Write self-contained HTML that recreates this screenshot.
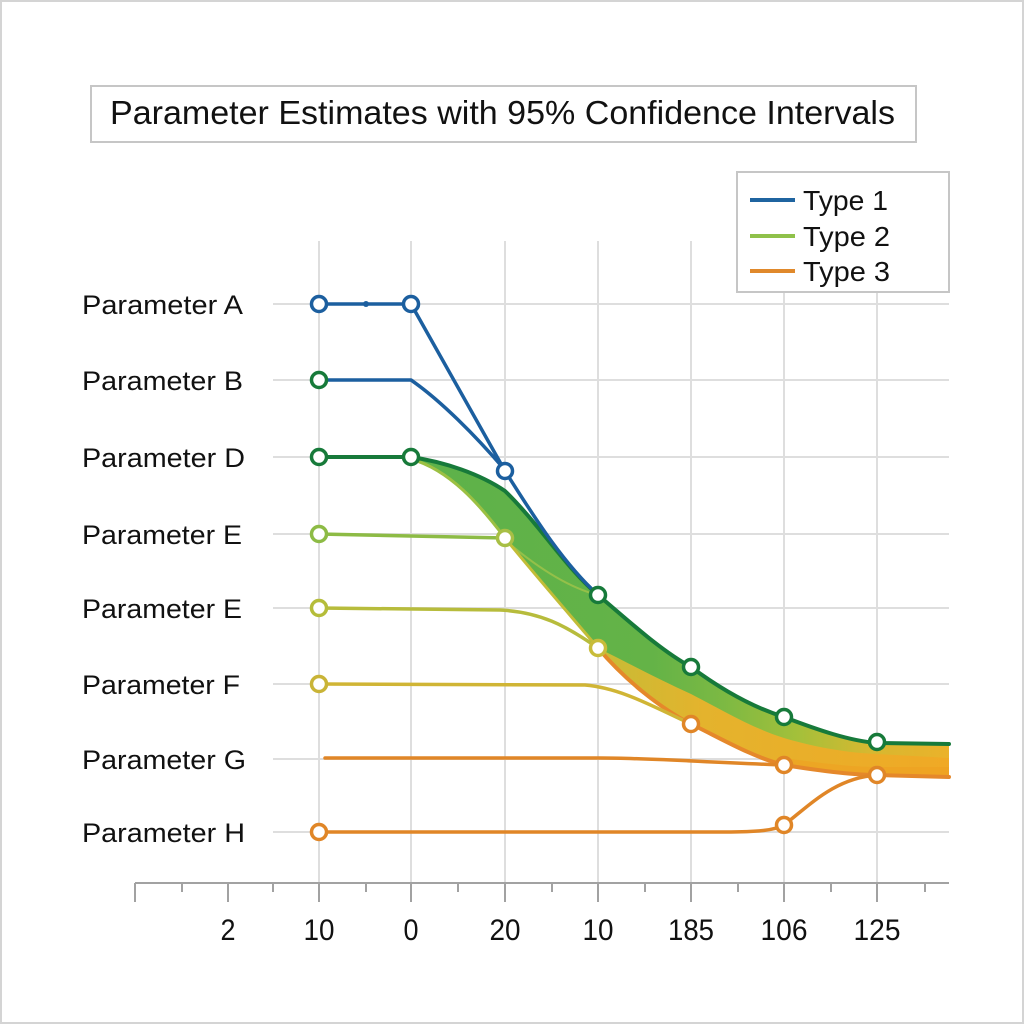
<!DOCTYPE html>
<html>
<head>
<meta charset="utf-8">
<style>
html,body{margin:0;padding:0;background:#fff;}
svg{display:block;}
text{font-family:"Liberation Sans",Arial,sans-serif;fill:#111;}
</style>
</head>
<body>
<svg width="1024" height="1024" viewBox="0 0 1024 1024" xmlns="http://www.w3.org/2000/svg">
<defs>
<linearGradient id="gUp" gradientUnits="userSpaceOnUse" x1="411" y1="0" x2="949" y2="0">
<stop offset="0" stop-color="#5db24a"/>
<stop offset="0.45" stop-color="#64b347"/>
<stop offset="0.58" stop-color="#7cb943"/>
<stop offset="0.72" stop-color="#a4c03a"/>
<stop offset="0.85" stop-color="#d6b830"/>
<stop offset="1" stop-color="#ebb22a"/>
</linearGradient>
<linearGradient id="gLow" gradientUnits="userSpaceOnUse" x1="598" y1="0" x2="949" y2="0">
<stop offset="0" stop-color="#c6bc36"/>
<stop offset="0.3" stop-color="#e4b32d"/>
<stop offset="1" stop-color="#f0a925"/>
</linearGradient>
</defs>
<rect x="1" y="1" width="1022" height="1022" fill="#fff" stroke="#d4d4d4" stroke-width="2"/>

<!-- title -->
<rect x="91" y="86" width="825" height="56" fill="#fff" stroke="#c6c6c6" stroke-width="2"/>
<text x="110" y="124" font-size="33" textLength="785" lengthAdjust="spacingAndGlyphs">Parameter Estimates with 95% Confidence Intervals</text>

<!-- grid -->
<g stroke="#dedede" stroke-width="2">
<line x1="319" y1="241" x2="319" y2="883"/>
<line x1="411" y1="241" x2="411" y2="883"/>
<line x1="505" y1="241" x2="505" y2="883"/>
<line x1="598" y1="241" x2="598" y2="883"/>
<line x1="691" y1="241" x2="691" y2="883"/>
<line x1="784" y1="241" x2="784" y2="883"/>
<line x1="877" y1="241" x2="877" y2="883"/>
<line x1="273" y1="304" x2="949" y2="304"/>
<line x1="273" y1="380" x2="949" y2="380"/>
<line x1="273" y1="457" x2="949" y2="457"/>
<line x1="273" y1="534" x2="949" y2="534"/>
<line x1="273" y1="608" x2="949" y2="608"/>
<line x1="273" y1="684" x2="949" y2="684"/>
<line x1="273" y1="759" x2="949" y2="759"/>
<line x1="273" y1="832" x2="949" y2="832"/>
</g>

<!-- axis -->
<g stroke="#a2a2a2" stroke-width="2">
<line x1="135" y1="883" x2="949" y2="883"/>
<line x1="135" y1="883" x2="135" y2="902"/>
<line x1="228" y1="883" x2="228" y2="902"/>
<line x1="319" y1="883" x2="319" y2="902"/>
<line x1="411" y1="883" x2="411" y2="902"/>
<line x1="505" y1="883" x2="505" y2="902"/>
<line x1="598" y1="883" x2="598" y2="902"/>
<line x1="691" y1="883" x2="691" y2="902"/>
<line x1="784" y1="883" x2="784" y2="902"/>
<line x1="877" y1="883" x2="877" y2="902"/>
<line x1="182" y1="883" x2="182" y2="892"/>
<line x1="273" y1="883" x2="273" y2="892"/>
<line x1="366" y1="883" x2="366" y2="892"/>
<line x1="458" y1="883" x2="458" y2="892"/>
<line x1="552" y1="883" x2="552" y2="892"/>
<line x1="645" y1="883" x2="645" y2="892"/>
<line x1="738" y1="883" x2="738" y2="892"/>
<line x1="831" y1="883" x2="831" y2="892"/>
<line x1="925" y1="883" x2="925" y2="892"/>
</g>
<g font-size="30" text-anchor="middle">
<text x="228" y="940" textLength="15" lengthAdjust="spacingAndGlyphs">2</text>
<text x="319" y="940" textLength="31" lengthAdjust="spacingAndGlyphs">10</text>
<text x="411" y="940" textLength="15" lengthAdjust="spacingAndGlyphs">0</text>
<text x="505" y="940" textLength="31" lengthAdjust="spacingAndGlyphs">20</text>
<text x="598" y="940" textLength="31" lengthAdjust="spacingAndGlyphs">10</text>
<text x="691" y="940" textLength="46" lengthAdjust="spacingAndGlyphs">185</text>
<text x="784" y="940" textLength="47" lengthAdjust="spacingAndGlyphs">106</text>
<text x="877" y="940" textLength="47" lengthAdjust="spacingAndGlyphs">125</text>
</g>

<!-- y labels -->
<g font-size="27">
<text x="82" y="314" textLength="161" lengthAdjust="spacingAndGlyphs">Parameter A</text>
<text x="82" y="390" textLength="161" lengthAdjust="spacingAndGlyphs">Parameter B</text>
<text x="82" y="467" textLength="163" lengthAdjust="spacingAndGlyphs">Parameter D</text>
<text x="82" y="544" textLength="160" lengthAdjust="spacingAndGlyphs">Parameter E</text>
<text x="82" y="618" textLength="160" lengthAdjust="spacingAndGlyphs">Parameter E</text>
<text x="82" y="694" textLength="158" lengthAdjust="spacingAndGlyphs">Parameter F</text>
<text x="82" y="769" textLength="164" lengthAdjust="spacingAndGlyphs">Parameter G</text>
<text x="82" y="842" textLength="163" lengthAdjust="spacingAndGlyphs">Parameter H</text>
</g>

<!-- band -->
<path d="M411,457 C445,462 480,474 505,491 C540,525 565,567 598,595 C630,622 660,650 691,667 C722,690 752,707 784,717 C818,730 850,741 877,743 L949,744 L949,777 L877,775 C850,775 815,770 784,765 C752,757 720,738 691,724 C660,708 625,680 598,648 C570,615 535,575 505,538 C480,505 450,470 411,459 Z" fill="url(#gUp)"/>
<path d="M598,648 C630,664 660,680 691,694 C722,710 752,728 784,738 C818,748 850,753 877,754 L949,758 L949,777 L877,775 C850,775 815,770 784,765 C752,757 720,738 691,724 C660,708 625,680 598,648 Z" fill="url(#gLow)"/>
<path d="M949,767 L877,767 C850,767 820,763 784,758 L784,765 C815,770 850,775 877,775 L949,777 Z" fill="#efa022" opacity="0.6"/>
<path d="M505,540 C540,570 570,588 598,595" fill="none" stroke="#a9c64a" stroke-width="2" opacity="0.7"/>

<!-- series lines -->
<g fill="none" stroke-linecap="round" stroke-linejoin="round">
<path d="M411,459 C450,470 480,505 505,538" stroke="#9cc043" stroke-width="3"/>
<path d="M505,538 C535,575 570,615 598,648" stroke="#c2bd37" stroke-width="3"/>
<path d="M598,648 C625,680 660,708 691,724 C720,738 752,757 784,765 C815,770 850,775 877,775 L949,777" stroke="#e5882a" stroke-width="4"/>
<path d="M319,534 L505,538" stroke="#8dbb45" stroke-width="3.5"/>
<path d="M319,608 L500,610 C540,612 565,625 598,648" stroke="#b7bc3c" stroke-width="3.5"/>
<path d="M319,684 L585,685 C620,688 650,705 691,724" stroke="#d0b535" stroke-width="3.5"/>
<path d="M325,758 L600,758 C650,758 700,762 784,765" stroke="#e08627" stroke-width="3.5"/>
<path d="M319,832 L725,832 C760,832 775,830 784,825 C810,805 835,778 877,775" stroke="#e08627" stroke-width="3.5"/>
<path d="M319,457 L411,457 C445,462 480,474 505,491 C540,525 565,567 598,595 C630,622 660,650 691,667 C722,690 752,707 784,717 C818,730 850,741 877,743 L949,744" stroke="#177a3a" stroke-width="4"/>
<path d="M319,380 L411,380 C440,400 475,435 505,470" stroke="#1c5f9f" stroke-width="3.5"/>
<path d="M319,304 L411,304 L505,471 C530,510 560,560 598,595" stroke="#1c5f9f" stroke-width="3.5"/>
</g>
<circle cx="366" cy="304" r="3" fill="#1c5f9f"/>

<!-- markers -->
<g fill="#fff" stroke-width="3.5">
<circle cx="319" cy="304" r="7.5" stroke="#1c5f9f"/>
<circle cx="411" cy="304" r="7.5" stroke="#1c5f9f"/>
<circle cx="505" cy="471" r="7.5" stroke="#1c5f9f"/>
<circle cx="319" cy="380" r="7.5" stroke="#177a3a"/>
<circle cx="319" cy="457" r="7.5" stroke="#177a3a"/>
<circle cx="411" cy="457" r="7.5" stroke="#177a3a"/>
<circle cx="319" cy="534" r="7.5" stroke="#8dbb45"/>
<circle cx="505" cy="538" r="7.5" stroke="#a8bf45"/>
<circle cx="319" cy="608" r="7.5" stroke="#b5bd3a"/>
<circle cx="319" cy="684" r="7.5" stroke="#c9b437"/>
<circle cx="319" cy="832" r="7.5" stroke="#e08627"/>
<circle cx="598" cy="595" r="7.5" stroke="#177a3a"/>
<circle cx="691" cy="667" r="7.5" stroke="#177a3a"/>
<circle cx="784" cy="717" r="7.5" stroke="#177a3a"/>
<circle cx="877" cy="742" r="7.5" stroke="#177a3a"/>
<circle cx="598" cy="648" r="7.5" stroke="#c8bc3a"/>
<circle cx="691" cy="724" r="7.5" stroke="#e08627"/>
<circle cx="784" cy="765" r="7.5" stroke="#e08627"/>
<circle cx="784" cy="825" r="7.5" stroke="#e08627"/>
<circle cx="877" cy="775" r="7.5" stroke="#e08627"/>
</g>

<!-- legend -->
<rect x="737" y="172" width="212" height="120" fill="#fff" stroke="#c6c6c6" stroke-width="2"/>
<g stroke-width="4">
<line x1="750" y1="200" x2="795" y2="200" stroke="#1f64a0"/>
<line x1="750" y1="236" x2="795" y2="236" stroke="#8fc14a"/>
<line x1="750" y1="271" x2="795" y2="271" stroke="#e0892b"/>
</g>
<g font-size="28">
<text x="803" y="210" textLength="85" lengthAdjust="spacingAndGlyphs">Type 1</text>
<text x="803" y="246" textLength="87" lengthAdjust="spacingAndGlyphs">Type 2</text>
<text x="803" y="281" textLength="87" lengthAdjust="spacingAndGlyphs">Type 3</text>
</g>
</svg>
</body>
</html>
